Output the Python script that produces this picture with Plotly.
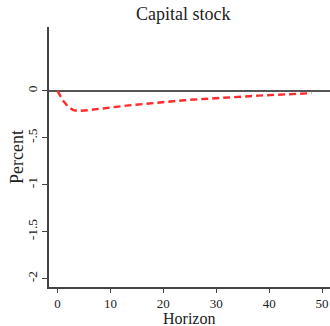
import plotly.graph_objects as go

# Impulse response of the capital stock (percent deviation) by horizon
horizon = list(range(0, 49))
capital = [
    0.000, -0.100, -0.170, -0.205, -0.215, -0.212, -0.205, -0.198, -0.190, -0.183,
    -0.176, -0.170, -0.164, -0.158, -0.152, -0.146, -0.140, -0.135, -0.129, -0.124,
    -0.119, -0.114, -0.109, -0.105, -0.100, -0.096, -0.092, -0.088, -0.084, -0.080,
    -0.076, -0.073, -0.069, -0.066, -0.063, -0.060, -0.057, -0.054, -0.051, -0.048,
    -0.045, -0.042, -0.040, -0.037, -0.034, -0.032, -0.029, -0.027, -0.025,
]

x_ticks = [0, 10, 20, 30, 40, 50]
y_ticks = [0, -0.5, -1, -1.5, -2]
y_tick_text = ["0", "-.5", "-1", "-1.5", "-2"]

serif = "Liberation Serif, Times New Roman, serif"
ink = "#222222"

fig = go.Figure()
fig.add_trace(go.Scatter(
    x=horizon, y=capital, mode="lines",
    line=dict(color="#ff2a2a", width=2.4, dash="7px,4px"),
    showlegend=False,
))

fig.update_layout(
    width=330, height=326,
    margin=dict(l=49, r=0, t=27, b=39),
    paper_bgcolor="white", plot_bgcolor="white",
    font=dict(family=serif, color=ink, size=13),
    title=dict(text="Capital stock", x=0.555, xanchor="center", y=0.957,
               yanchor="middle", font=dict(family=serif, size=18, color=ink)),
    xaxis=dict(
        range=[-1.6, 51.5], tickvals=x_ticks, ticks="outside", ticklen=4,
        tickwidth=1.3, tickcolor="#444444", showline=True, linecolor="#444444",
        linewidth=1.5, showgrid=False, zeroline=False, mirror=False,
        tickfont=dict(size=13),
    ),
    yaxis=dict(
        range=[-2.09, 0.68], tickvals=y_ticks, ticktext=y_tick_text,
        tickangle=-90, ticks="outside", ticklen=5, tickwidth=1.3,
        tickcolor="#444444", showline=True, linecolor="#444444", linewidth=1.5,
        showgrid=False, zeroline=True, zerolinecolor="#555555", zerolinewidth=2,
        tickfont=dict(size=13.5),
    ),
    annotations=[
        dict(text="Horizon", xref="paper", yref="paper", x=0.497, y=-0.121,
             xanchor="center", yanchor="middle", showarrow=False,
             font=dict(family=serif, size=16, color=ink)),
        dict(text="Percent", xref="paper", yref="paper", x=-0.114, y=0.5,
             xanchor="center", yanchor="middle", textangle=-90, showarrow=False,
             font=dict(family=serif, size=18, color=ink)),
    ],
)

fig.write_html("out.html")
